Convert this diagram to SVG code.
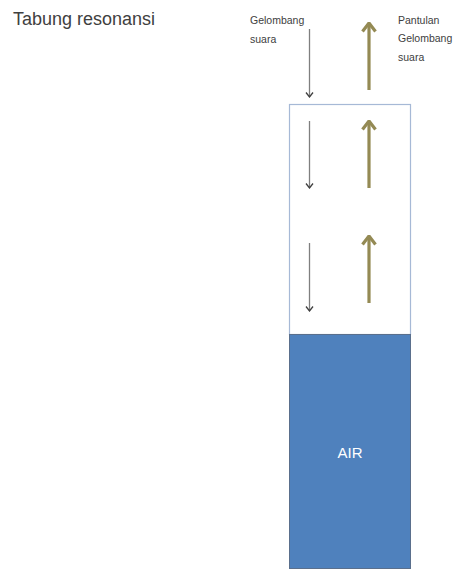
<svg xmlns="http://www.w3.org/2000/svg" width="466" height="571" viewBox="0 0 466 571">
<style>
text{font-family:"Liberation Sans",Arial,sans-serif}
.lbl{font-size:10.5px;fill:#404040}
.down{stroke:#7f7f7f;stroke-width:1.3;fill:none}
.up{stroke:#948a54;stroke-width:3.2;fill:none}
</style>
<defs>
<marker id="ad" viewBox="0 0 10 10" refX="5" refY="9" markerWidth="10" markerHeight="10" markerUnits="userSpaceOnUse" orient="0">
<path d="M1.5,4.5 L5,9 L8.5,4.5" fill="none" stroke="#404040" stroke-width="1.3"/>
</marker>
<marker id="au" viewBox="0 0 16 12" refX="8" refY="1.5" markerWidth="16" markerHeight="12" markerUnits="userSpaceOnUse" orient="0">
<path d="M1.5,10 L8,1.5 L14.5,10" fill="none" stroke="#948a54" stroke-width="3.2"/>
</marker>
</defs>
<rect width="466" height="571" fill="#ffffff"/>
<text x="13" y="25" font-size="18" fill="#404040" textLength="142" lengthAdjust="spacingAndGlyphs">Tabung resonansi</text>
<g id="tube">
<rect x="289.5" y="104.5" width="121" height="230" fill="#ffffff" stroke="#a6b9d6" stroke-width="1.2"/>
</g>
<g id="water">
<rect x="289.5" y="334.5" width="121" height="234" fill="#4f81bd" stroke="#5a6f8c" stroke-width="1"/>
<text x="350" y="458" font-size="15" fill="#ffffff" text-anchor="middle">AIR</text>
</g>
<g id="label-gelombang">
<text class="lbl" x="250" y="24">Gelombang</text>
<text class="lbl" x="250" y="43">suara</text>
</g>
<g id="label-pantulan">
<text class="lbl" x="398" y="24">Pantulan</text>
<text class="lbl" x="398" y="42">Gelombang</text>
<text class="lbl" x="398" y="61">suara</text>
</g>
<g id="connectors">
<line class="down" x1="309.5" y1="29" x2="309.5" y2="97" marker-end="url(#ad)"/>
<line class="down" x1="309.5" y1="121" x2="309.5" y2="188" marker-end="url(#ad)"/>
<line class="down" x1="309.5" y1="243" x2="309.5" y2="311" marker-end="url(#ad)"/>
<line class="up" x1="369" y1="90" x2="369" y2="23" marker-end="url(#au)"/>
<line class="up" x1="369" y1="188" x2="369" y2="121" marker-end="url(#au)"/>
<line class="up" x1="369" y1="303" x2="369" y2="236" marker-end="url(#au)"/>
</g>
</svg>
